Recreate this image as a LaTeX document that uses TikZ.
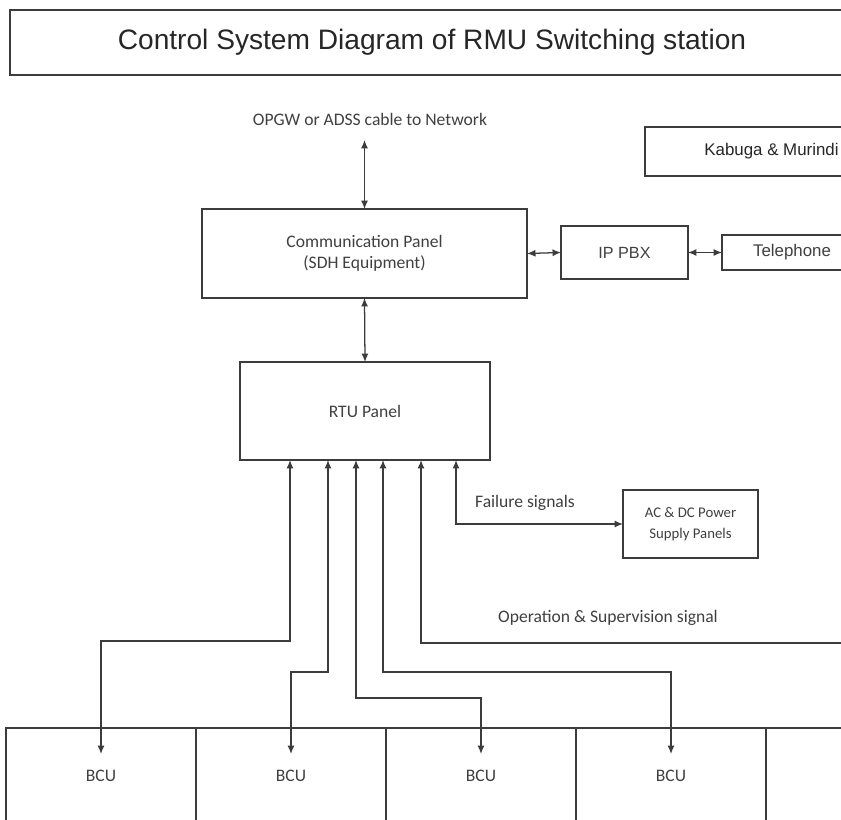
\documentclass[tikz,border=0pt]{standalone}
\usepackage{fontspec}
\setmainfont{Carlito}
\newfontfamily\arialfont{Liberation Sans}
\usetikzlibrary{arrows.meta}
\definecolor{linegray}{HTML}{3C3C3C}
\definecolor{textgray}{HTML}{404040}
\begin{document}
\begin{tikzpicture}[x=0.025cm, y=-0.025cm, >={Latex[length=6pt,width=5pt]},
  every node/.style={font=\fontsize{12.5}{15}\selectfont, text=textgray},
  box/.style={draw=linegray, line width=1pt, align=center, inner sep=0pt, outer sep=0pt},
  link/.style={draw=linegray, line width=0.9pt}]
\useasboundingbox (0,0) rectangle (841,820);
\fill[white] (0,0) rectangle (841,820);
\clip (0,0) rectangle (841,820);
% title and site
\node[box, minimum width=21.1cm, minimum height=1.625cm, text=black!85,
  font=\arialfont\fontsize{20}{24}\selectfont] (title) at (432,42.5) {Control System Diagram of RMU Switching station};
\node[box, minimum width=6.325cm, minimum height=1.225cm, text=black!85,
  font=\arialfont\fontsize{12}{14}\selectfont] (site) at (771.5,151.5) {Kabuga \& Murindi};
% communication
\node (net) at (370,119) {OPGW or ADSS cable to Network};
\coordinate (netend) at (364.5,140);
\node[box, minimum width=8.125cm, minimum height=2.225cm] (comm) at (364.5,253.5) {Communication Panel\\(SDH Equipment)};
\node[box, minimum width=3.175cm, minimum height=1.325cm, font=\arialfont\fontsize{11.5}{14}\selectfont] (pbx) at (624.5,252.5) {IP PBX};
\node[box, minimum width=3.5cm, minimum height=0.875cm, font=\arialfont\fontsize{12}{14}\selectfont] (tel) at (792,252.5) {Telephone};
\node[box, minimum width=6.25cm, minimum height=2.45cm] (rtu) at (365,411) {RTU Panel};
\node[box, minimum width=3.375cm, minimum height=1.7cm, font=\fontsize{10.5}{15}\selectfont] (acdc) at (690.5,524) {AC \& DC Power\\Supply Panels};
\foreach \i/\cx/\lab in {1/101/BCU,2/291/BCU,3/481/BCU,4/671/BCU,5/861/}
  \node[box, minimum width=4.75cm, minimum height=2.4cm] (bcu\i) at (\cx,776) {\lab};
\draw[link,<->] (netend) -- (comm.north);
\draw[link,<->] (comm.south) -- (rtu.north);
\draw[link,<->] (comm.east) -- (pbx.west);
\draw[link,<->] (pbx.east) -- (tel.west);
% signals between RTU and bay units
\foreach \dx/\down/\j in {-75/181/1,-37/212/2,-9/238/3,18/212/4}
  \draw[link,<->] ([xshift=\dx*0.025cm]rtu.south) -- ++(0,\down) -| ([yshift=0.55cm]bcu\j.center);
\coordinate (opend) at (860,643);
\draw[link,<-] ([xshift=1.4cm]rtu.south) |- (opend);
\node (opsig) at (608,618) {Operation \& Supervision signal};
\draw[link,<->] ([xshift=2.275cm]rtu.south) |- (acdc.west);
\node (fail) at (525,503) {Failure signals};
\end{tikzpicture}
\end{document}
